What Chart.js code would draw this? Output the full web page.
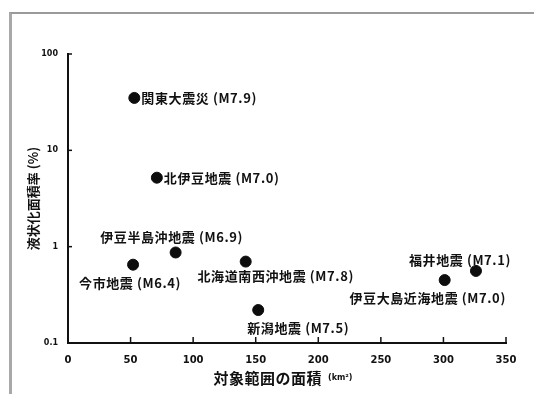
<!DOCTYPE html>
<html>
<head>
<meta charset="utf-8">
<script src="https://cdn.jsdelivr.net/npm/chart.js@4/dist/chart.umd.min.js"></script>
<style>
  html, body { margin: 0; padding: 0; background: #ffffff; }
  #wrap { position: relative; width: 534px; height: 394px; overflow: hidden; }
  #frame { position: absolute; left: 9px; top: 12px; width: 540px; height: 400px;
           border-top: 2px solid #9a9a9a; border-left: 3px solid #a8a8a8; box-sizing: border-box; }
  canvas { position: absolute; left: 0; top: 0; }
</style>
</head>
<body>
<div id="wrap">
  <div id="frame"></div>
  <canvas id="c" width="534" height="394"></canvas>
</div>
<script>
// ---- data ----
const quakeNames = [
  '関東大震災 (M7.9)',
  '北伊豆地震 (M7.0)',
  '伊豆半島沖地震 (M6.9)',
  '今市地震 (M6.4)',
  '北海道南西沖地震 (M7.8)',
  '新潟地震 (M7.5)',
  '福井地震 (M7.1)',
  '伊豆大島近海地震 (M7.0)'
];
const areaKm2 = [53, 71, 86, 52, 142, 152, 326, 301];
const liquefactionPct = [35, 5.2, 0.87, 0.65, 0.70, 0.22, 0.56, 0.45];
const xTickValues = [0, 50, 100, 150, 200, 250, 300, 350];
const yTickValues = [0.1, 1, 10, 100];
const xTitle = '対象範囲の面積';
const xUnit = '(km²)';
const yTitle = '液状化面積率 (%)';

const CJK = '"Noto Sans CJK JP", "Noto Sans", sans-serif';

const pointLabels = {
  id: 'pointLabels',
  afterDatasetsDraw(chart, args, opts) {
    const ctx = chart.ctx;
    const meta = chart.getDatasetMeta(0);
    ctx.save();
    ctx.fillStyle = '#111';
    ctx.font = 'bold 13px ' + CJK;
    ctx.letterSpacing = '0.6px';
    ctx.textBaseline = 'middle';
    meta.data.forEach((pt, i) => {
      const o = opts.offsets[i];
      ctx.textAlign = o.align;
      ctx.fillText(quakeNames[i], pt.x + o.dx, pt.y + o.dy);
    });
    ctx.restore();
  }
};

const axisDecor = {
  id: 'axisDecor',
  afterDraw(chart) {
    const ctx = chart.ctx;
    const xs = chart.scales.x, ys = chart.scales.y;
    const a = chart.chartArea;
    ctx.save();
    ctx.strokeStyle = '#111';
    ctx.lineWidth = 1.5;
    xTickValues.forEach(v => {
      const px = xs.getPixelForValue(v);
      ctx.beginPath();
      ctx.moveTo(px, a.bottom);
      ctx.lineTo(px, a.bottom - 6);
      ctx.stroke();
    });
    yTickValues.forEach(v => {
      const py = ys.getPixelForValue(v);
      ctx.beginPath();
      ctx.moveTo(a.left, py);
      ctx.lineTo(a.left + 4, py);
      ctx.stroke();
    });
    ctx.fillStyle = '#111';
    ctx.textBaseline = 'middle';
    ctx.font = 'bold 15px ' + CJK;
    ctx.letterSpacing = '0.5px';
    const w1 = ctx.measureText(xTitle).width;
    ctx.font = 'bold 8px "DejaVu Sans", sans-serif';
    ctx.letterSpacing = '0px';
    const w2 = ctx.measureText(xUnit).width;
    const total = w1 + 6 + w2;
    const cx = (a.left + a.right) / 2 - 4;
    const sx = cx - total / 2;
    ctx.textAlign = 'left';
    ctx.font = 'bold 15px ' + CJK;
    ctx.letterSpacing = '0.5px';
    ctx.fillText(xTitle, sx, 378);
    ctx.font = 'bold 8px "DejaVu Sans", sans-serif';
    ctx.letterSpacing = '0px';
    ctx.fillText(xUnit, sx + w1 + 6, 378);
    ctx.restore();
  }
};

new Chart(document.getElementById('c'), {
  type: 'scatter',
  data: {
    datasets: [{
      data: areaKm2.map((x, i) => ({ x: x, y: liquefactionPct[i] })),
      backgroundColor: '#0d0d0d',
      borderColor: '#0d0d0d',
      pointRadius: 5.5,
      pointHoverRadius: 5.5
    }]
  },
  options: {
    responsive: false,
    animation: false,
    devicePixelRatio: 1,
    layout: { padding: { top: 54, right: 28, left: 0, bottom: 0 } },
    plugins: {
      legend: { display: false },
      tooltip: { enabled: false },
      pointLabels: {
        offsets: [
          { align: 'left', dx: 7, dy: 0 },
          { align: 'left', dx: 7, dy: 0 },
          { align: 'center', dx: -4, dy: -15 },
          { align: 'center', dx: -3, dy: 18 },
          { align: 'center', dx: 30, dy: 14 },
          { align: 'center', dx: 40, dy: 18 },
          { align: 'center', dx: -16, dy: -11 },
          { align: 'center', dx: -17, dy: 18 }
        ]
      }
    },
    scales: {
      x: {
        type: 'linear',
        position: 'bottom',
        min: 0, max: 350,
        grid: { display: false },
        border: { display: true, color: '#111', width: 2 },
        afterBuildTicks: s => { s.ticks = xTickValues.map(v => ({ value: v })); },
        afterFit: s => { s.height = 51; },
        ticks: {
          color: '#111',
          padding: 3,
          font: { family: '"DejaVu Sans", sans-serif', size: 10, weight: 'bold' },
          maxRotation: 0,
          callback: v => String(v)
        }
      },
      y: {
        type: 'logarithmic',
        position: 'left',
        min: 0.1, max: 100,
        grid: { display: false },
        border: { display: true, color: '#111', width: 2 },
        afterBuildTicks: s => { s.ticks = yTickValues.map(v => ({ value: v })); },
        afterFit: s => { s.width = 68; },
        ticks: {
          color: '#111',
          padding: 2,
          font: { family: '"DejaVu Sans", sans-serif', size: 8, weight: 'bold' },
          callback: v => String(v)
        },
        title: {
          display: true,
          text: yTitle,
          color: '#111',
          font: { family: CJK, size: 13, weight: 'bold' },
          padding: { top: 25, bottom: 0 }
        }
      }
    }
  },
  plugins: [pointLabels, axisDecor]
});
</script>
</body>
</html>
